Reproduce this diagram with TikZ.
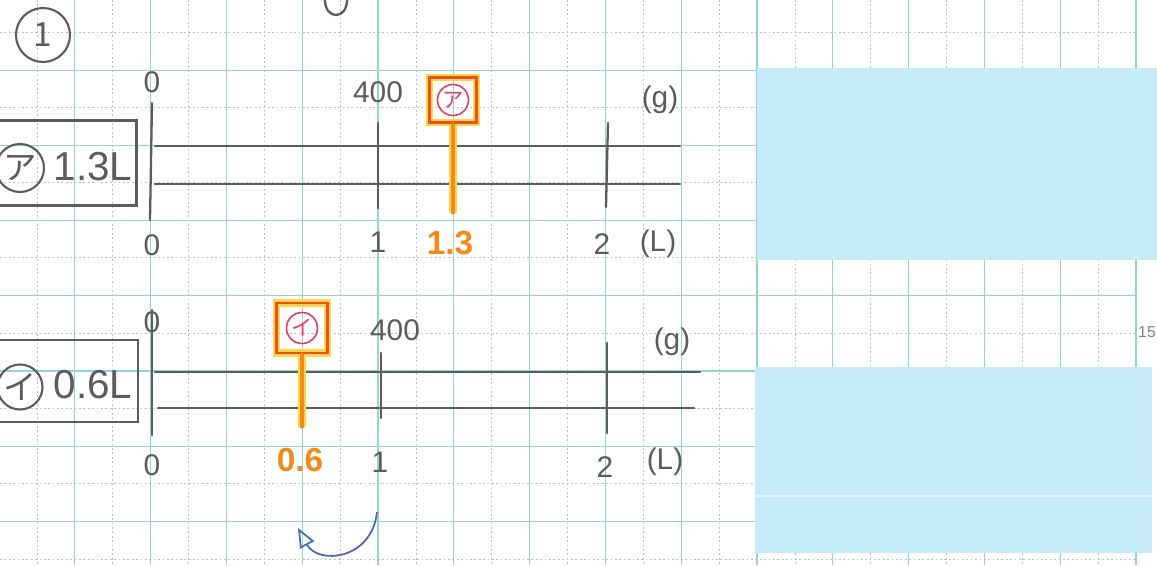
\documentclass[tikz,border=0pt]{standalone}
\usepackage{fontspec}
\setmainfont{Liberation Sans}
\newfontfamily\jpfont{Noto Sans CJK JP}
\usetikzlibrary{arrows.meta}
\definecolor{gridteal}{RGB}{150,213,206}
\definecolor{griddot}{RGB}{188,192,192}
\definecolor{pencil}{RGB}{92,92,92}
\definecolor{markorange}{RGB}{242,138,28}
\definecolor{markred}{RGB}{232,80,40}
\definecolor{markpink}{RGB}{228,60,96}
\definecolor{hiyellow}{RGB}{255,214,70}
\definecolor{penblue}{RGB}{72,104,192}
\definecolor{stickyblue}{RGB}{198,236,250}
\tikzset{
  gridmajor/.style={gridteal, line width=0.65pt},
  gridminor/.style={griddot, line width=0.5pt, dash pattern=on 1pt off 1.5pt},
  pencilline/.style={pencil, line width=1.3pt, line cap=round},
  numlab/.style={text=pencil, font=\fontsize{17}{17}\selectfont, inner sep=0pt},
  bigtext/.style={text=pencil, font=\fontsize{23}{23}\selectfont, inner sep=0pt},
  labbox/.style={draw=pencil, line width=1.3pt, inner sep=0pt},
  circlab/.style={circle, draw=pencil, line width=1.2pt, inner sep=0pt, text=pencil,
    font=\jpfont\fontsize{19}{19}\selectfont},
  markbox/.style={draw=markred, line width=1.6pt, inner sep=0pt,
    preaction={draw=hiyellow, line width=4pt}},
  markcirc/.style={circle, draw=markpink, line width=0.9pt, minimum size=0.62cm, inner sep=0pt,
    text=markpink, font=\jpfont\fontsize{12}{12}\selectfont},
  markstick/.style={markorange, line width=1.8pt, line cap=round,
    preaction={draw=hiyellow, line width=4pt}},
  marklab/.style={text=markorange, font=\bfseries\fontsize{19}{19}\selectfont, inner sep=0pt},
  sticky/.style={fill=stickyblue, draw=none}
}
\begin{document}
\begin{tikzpicture}[x=0.02cm, y=-0.02cm]
\useasboundingbox (0,0) rectangle (1157,565);
\fill[white] (0,0) rectangle (1157,565);
% paper grid
\foreach \i in {0,...,14} \draw[gridminor] ({37+75.8*\i},0) -- ({37+75.8*\i},565);
\foreach \j in {0,...,7} \draw[gridminor] (0,{32+75.3*\j}) -- (1137,{32+75.3*\j});
\foreach \i in {1,...,15} \draw[gridmajor] ({-1+75.8*\i},0) -- ({-1+75.8*\i},565);
\foreach \j in {1,...,7} \draw[gridmajor] (0,{-5+75.2*\j}) -- (1137,{-5+75.2*\j});
\node[text=gray, font=\fontsize{9}{9}\selectfont] (pgno) at (1147,332) {15};

% sticky notes
\fill[sticky] (757,68) rectangle (1157,260);
\fill[sticky] (755,367) rectangle (1152,553);
\draw[white!55!stickyblue, line width=1.2pt] (755,496) -- (1152,496);

% question number
\node[circlab, minimum size=1.08cm] (qnum) at (43,35) {1};
\draw[pencilline] (325,0) .. controls (325,20) and (347,20) .. (347,0);

% first number line
\node[labbox, minimum width=2.94cm, minimum height=1.7cm] (boxA) at (63,163) {};
\node[circlab, minimum size=0.96cm] (cA) at (20,168) {ア};
\node[bigtext] (volA) at (93,167) {1.3L};
\draw[pencilline] (152,103) -- (150,220);
\draw[pencilline] (155,146) -- (680,146);
\draw[pencilline] (155,184) -- (680,184);
\draw[pencilline] (378,123) -- (378,208);
\draw[pencilline] (608,123) -- (606,207);
\node[numlab] (gA0) at (152,82) {0};
\node[numlab] (gA400) at (378,92) {400};
\node[numlab] (gAu) at (660,100) {(g)};
\node[numlab] (lA0) at (152,245) {0};
\node[numlab] (lA1) at (378,242) {1};
\node[numlab] (lA2) at (602,244) {2};
\node[numlab] (lAu) at (658,244) {(L)};
\node[markbox, minimum width=0.94cm, minimum height=0.9cm] (markA) at (453,100) {};
\node[markcirc] (mcA) at (markA) {ア};
\coordinate (tipA) at (453,213);
\draw[markstick] (markA.south) -- (tipA);
\node[marklab] (valA) at (450,243) {1.3};

% second number line
\node[labbox, minimum width=2.96cm, minimum height=1.64cm] (boxB) at (64,381) {};
\node[circlab, minimum size=0.9cm] (cB) at (20,387) {イ};
\node[bigtext] (volB) at (93,385) {0.6L};
\draw[pencilline] (152,310) -- (152,435);
\draw[pencilline] (155,372) -- (700,372);
\draw[pencilline] (158,408) -- (694,408);
\draw[pencilline] (381,353) -- (381,418);
\draw[pencilline] (607,343) -- (607,433);
\node[numlab] (gB0) at (152,322) {0};
\node[numlab] (gB400) at (395,330) {400};
\node[numlab] (gBu) at (672,342) {(g)};
\node[numlab] (lB0) at (152,465) {0};
\node[numlab] (lB1) at (380,462) {1};
\node[numlab] (lB2) at (605,467) {2};
\node[numlab] (lBu) at (665,462) {(L)};
\node[markbox, minimum width=1.02cm, minimum height=1.0cm] (markB) at (302,328) {};
\node[markcirc] (mcB) at (markB) {イ};
\coordinate (tipB) at (302,427);
\draw[markstick] (markB.south) -- (tipB);
\node[marklab] (valB) at (300,460) {0.6};

% note arrow
\coordinate (arrS) at (377,512);
\coordinate (arrE) at (298,528);
\draw[penblue, line width=1pt, -{Triangle[open, length=11pt, width=9pt]}]
  (arrS) .. controls (372,560) and (318,565) .. (arrE);
\end{tikzpicture}
\end{document}
